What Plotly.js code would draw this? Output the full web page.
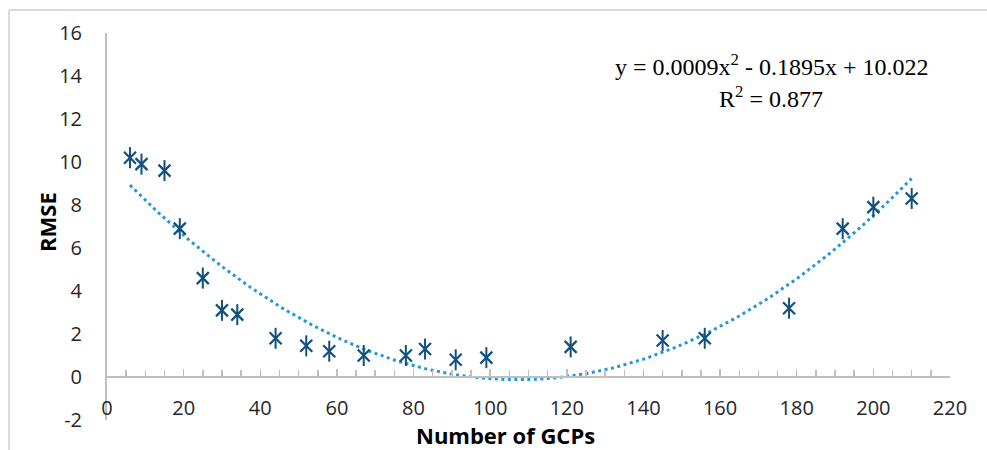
<!DOCTYPE html>
<html>
<head>
<meta charset="utf-8">
<script src="https://cdn.plot.ly/plotly-3.0.1.min.js"></script>
<style>html,body{margin:0;padding:0;background:#fff;overflow:hidden;}#chart{width:987px;height:450px;}</style>
</head>
<body>
<div id="chart"></div>
<script>
// Data
const gcps = [6, 9, 15, 19, 25, 30, 34, 44, 52, 58, 67, 78, 83, 91, 99, 121, 145, 156, 178, 192, 200, 210];
const rmse = [10.2, 9.9, 9.6, 6.9, 4.6, 3.1, 2.9, 1.8, 1.45, 1.2, 1.0, 1.0, 1.3, 0.8, 0.9, 1.4, 1.7, 1.8, 3.2, 6.9, 7.9, 8.3];
const xTicks = [0, 20, 40, 60, 80, 100, 120, 140, 160, 180, 200, 220];
const yTicks = [-2, 0, 2, 4, 6, 8, 10, 12, 14, 16];
const equationText = 'y = 0.0009x<sup>2</sup> - 0.1895x + 10.022';
const r2Text = 'R<sup>2</sup> = 0.877';

// Least-squares polynomial (order 2) trendline, as the spreadsheet computes it
function polyFit2(xs, ys) {
  let S = [0,0,0,0,0], T = [0,0,0];
  for (let i = 0; i < xs.length; i++) {
    let p = 1;
    for (let k = 0; k < 5; k++) { S[k] += p; if (k < 3) T[k] += p * ys[i]; p *= xs[i]; }
  }
  const A = [[S[0],S[1],S[2],T[0]],[S[1],S[2],S[3],T[1]],[S[2],S[3],S[4],T[2]]];
  for (let c = 0; c < 3; c++) {
    for (let r = c + 1; r < 3; r++) {
      const f = A[r][c] / A[c][c];
      for (let k = c; k < 4; k++) A[r][k] -= f * A[c][k];
    }
  }
  const s = [0,0,0];
  for (let r = 2; r >= 0; r--) {
    let v = A[r][3];
    for (let k = r + 1; k < 3; k++) v -= A[r][k] * s[k];
    s[r] = v / A[r][r];
  }
  return s; // c0, c1, c2
}
const coef = polyFit2(gcps, rmse);
const trendX = [], trendY = [];
const xmin = Math.min(...gcps), xmax = Math.max(...gcps);
for (let x = xmin; x <= xmax + 1e-9; x += 1) {
  trendX.push(x);
  trendY.push(coef[0] + coef[1] * x + coef[2] * x * x);
}

const markerColor = '#12507f';
const traces = [
  { x: trendX, y: trendY, type: 'scatter', mode: 'lines',
    line: { color: '#2596d6', width: 3, dash: '3px,3.5px' }, hoverinfo: 'skip', showlegend: false },
  { x: gcps, y: rmse, type: 'scatter', mode: 'markers',
    marker: { symbol: 'x-thin-open', size: 12, line: { color: markerColor, width: 2.2 }, color: markerColor },
    showlegend: false },
  { x: gcps, y: rmse, type: 'scatter', mode: 'markers',
    marker: { symbol: 'line-ns-open', size: 15, line: { color: markerColor, width: 2 }, color: markerColor },
    showlegend: false },
  { x: [0], y: [0], xaxis: 'x2', type: 'scatter', mode: 'markers', marker: { opacity: 0 }, hoverinfo: 'skip', showlegend: false }
];

const tickFont = { family: 'Open Sans, sans-serif', size: 20, color: '#262626' };
const borderLine = { color: '#d9d9d9', width: 2 };
const layout = {
  width: 987, height: 450,
  margin: { l: 107, r: 37, t: 33, b: 30 },
  paper_bgcolor: '#ffffff', plot_bgcolor: '#ffffff',
  showlegend: false,
  xaxis: {
    range: [0, 220], anchor: 'free', position: 0.066,
    tickvals: xTicks, ticktext: xTicks.map(String),
    showline: false, showgrid: false, zeroline: false, ticks: '',
    tickfont: tickFont
  },
  xaxis2: {
    range: [0, 220], overlaying: 'x', anchor: 'free', position: 2 / 18, side: 'bottom',
    showline: true, linecolor: '#bfbfbf', linewidth: 2,
    showgrid: false, zeroline: false, showticklabels: false,
    ticks: 'inside', dtick: 20, tick0: 0, ticklen: 7, tickwidth: 1.5, tickcolor: '#bfbfbf',
    minor: { dtick: 5, tick0: 0, ticks: 'inside', ticklen: 6, tickwidth: 1.5, tickcolor: '#bfbfbf' }
  },
  yaxis: {
    range: [-2, 16], tickvals: yTicks, ticktext: yTicks.map(String),
    showline: true, linecolor: '#bfbfbf', linewidth: 2,
    showgrid: false, zeroline: false, ticks: '', ticklabelstandoff: 19,
    tickfont: tickFont
  },
  shapes: [
    { type: 'line', xref: 'paper', yref: 'paper', x0: -0.1163, x1: 1.3, y0: 1.0594, y1: 1.0594,
      line: borderLine, layer: 'below' },
    { type: 'line', xref: 'paper', yref: 'paper', x0: -0.1163, x1: -0.1163, y0: -0.3, y1: 1.0594,
      line: borderLine, layer: 'below' }
  ],
  annotations: [
    { text: equationText, xref: 'paper', yref: 'paper', x: 0.7877, y: 0.9173,
      xanchor: 'center', yanchor: 'middle', showarrow: false,
      font: { family: 'Liberation Serif, serif', size: 24, color: '#000' } },
    { text: r2Text, xref: 'paper', yref: 'paper', x: 0.7877, y: 0.8346,
      xanchor: 'center', yanchor: 'middle', showarrow: false,
      font: { family: 'Liberation Serif, serif', size: 24, color: '#000' } },
    { text: '<b>Number of GCPs</b>', xref: 'paper', yref: 'paper', x: (505 - 107) / 843, y: (420 - 435) / 387,
      xanchor: 'center', yanchor: 'middle', showarrow: false,
      font: { family: 'Open Sans, sans-serif', size: 22, color: '#000' } },
    { text: '<b>RMSE</b>', xref: 'paper', yref: 'paper', x: (47 - 107) / 843, y: (420 - 222) / 387,
      xanchor: 'center', yanchor: 'middle', showarrow: false, textangle: -90,
      font: { family: 'Open Sans, sans-serif', size: 22, color: '#000' } }
  ]
};

Plotly.newPlot('chart', traces, layout, { displayModeBar: false, staticPlot: true });
</script>
</body>
</html>
